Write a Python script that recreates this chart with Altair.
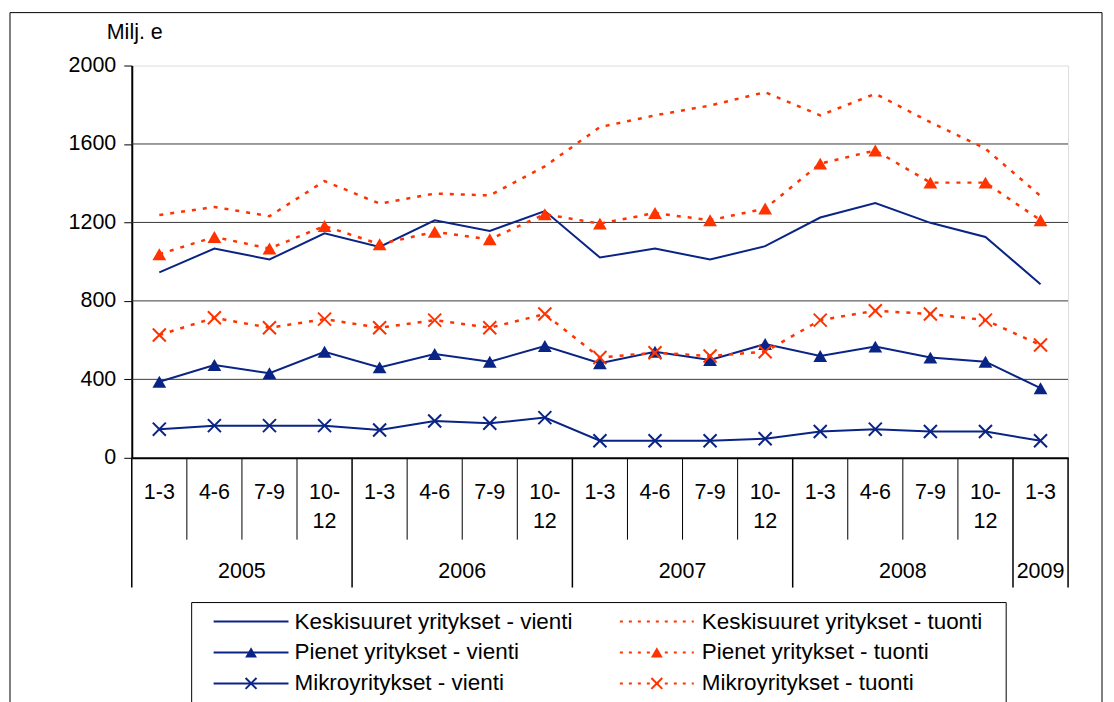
import altair as alt
import pandas as pd

FONT = "Liberation Sans"
FS = 21.5
FS_LEG = 22.5
BLUE = "#0A2486"
RED = "#FF3300"

quarters = ["1-3", "4-6", "7-9", "10-\n12"] * 4 + ["1-3"]
years = ["2005", "2006", "2007", "2008", "2009"]
year_start = [0, 4, 8, 12, 16]
year_end = [4, 8, 12, 16, 17]

kesk_vienti = [945, 1067, 1011, 1145, 1075, 1211, 1157, 1258, 1021, 1067, 1011, 1079, 1225, 1299, 1198, 1126, 885]
kesk_tuonti = [1238, 1279, 1232, 1411, 1296, 1347, 1338, 1486, 1686, 1746, 1796, 1864, 1746, 1856, 1711, 1576, 1335]
pien_vienti = [388, 473, 431, 541, 461, 529, 490, 570, 482, 541, 499, 580, 519, 567, 511, 490, 355]
pien_tuonti = [1038, 1126, 1067, 1182, 1089, 1152, 1114, 1242, 1194, 1248, 1211, 1271, 1500, 1567, 1403, 1403, 1211]
mikro_vienti = [146, 164, 164, 164, 142, 188, 176, 205, 87, 87, 87, 97, 134, 146, 134, 134, 87]
mikro_tuonti = [626, 714, 663, 707, 663, 702, 663, 733, 511, 536, 519, 541, 702, 750, 733, 702, 575]

y_ticks = [0, 400, 800, 1200, 1600, 2000]
grid_vals = [400, 800, 1200, 1600]

series = [
    ("Keskisuuret yritykset - vienti", kesk_vienti, BLUE, None, None),
    ("Keskisuuret yritykset - tuonti", kesk_tuonti, RED, [4, 7], None),
    ("Pienet yritykset - vienti", pien_vienti, BLUE, None, "triangle-up"),
    ("Pienet yritykset - tuonti", pien_tuonti, RED, [4, 7], "triangle-up"),
    ("Mikroyritykset - vienti", mikro_vienti, BLUE, None, "X"),
    ("Mikroyritykset - tuonti", mikro_tuonti, RED, [4, 7], "X"),
]

W, H = 938, 393
XS = alt.Scale(domain=[0, 17], nice=False, zero=False)
YS = alt.Scale(domain=[0, 2000], nice=False)
XPATH = "M-1,-1L1,1M-1,1L1,-1"
dummy = alt.Data(values=[{"a": 1}])

layers = []

# base axes layer (y axis + x domain)
base_df = pd.DataFrame({"x": [0, 17], "y": [0, 2000]})
layers.append(
    alt.Chart(base_df).mark_point(opacity=0).encode(
        x=alt.X("x:Q", scale=XS, title=None,
                axis=alt.Axis(labels=False, ticks=False, grid=False, title=None,
                              domainColor="black", domainWidth=2)),
        y=alt.Y("y:Q", scale=YS, title=None,
                axis=alt.Axis(values=y_ticks, grid=False, title=None, format="d",
                              domainColor="black", domainWidth=2,
                              tickColor="black", tickSize=8, tickWidth=1,
                              labelFont=FONT, labelFontSize=FS, labelColor="black",
                              labelPadding=8)),
    )
)

# outer frame
layers.append(
    alt.Chart(dummy).mark_rect(fill=None, stroke="black", strokeWidth=1, clip=False).encode(
        x=alt.value(-122), x2=alt.value(972), y=alt.value(-53), y2=alt.value(700)
    )
)

# gridlines
grid_df = pd.DataFrame({"v": grid_vals})
layers.append(
    alt.Chart(grid_df).mark_rule(color="#3a3a3a", strokeWidth=1).encode(
        y=alt.Y("v:Q", scale=YS, title=None)
    )
)

# series
for name, vals, color, dash, shape in series:
    df = pd.DataFrame({"i": [k + 0.5 for k in range(len(vals))], "v": vals})
    lk = dict(color=color, strokeWidth=2)
    if dash:
        lk["strokeDash"] = dash
        lk["strokeWidth"] = 2.5
    layers.append(
        alt.Chart(df).mark_line(**lk).encode(
            x=alt.X("i:Q", scale=XS, title=None), y=alt.Y("v:Q", scale=YS, title=None)
        )
    )
    if shape == "triangle-up":
        layers.append(
            alt.Chart(df).mark_point(shape="triangle-up", filled=True, color=color, size=190, opacity=1).encode(
                x=alt.X("i:Q", scale=XS, title=None), y=alt.Y("v:Q", scale=YS, title=None)
            )
        )
    elif shape == "X":
        layers.append(
            alt.Chart(df).mark_point(shape=XPATH, filled=False, color=color, size=170, strokeWidth=2, opacity=1).encode(
                x=alt.X("i:Q", scale=XS, title=None), y=alt.Y("v:Q", scale=YS, title=None)
            )
        )

# x category separators
bnd = list(range(18))
long_b = set(year_start + year_end)
sep_df = pd.DataFrame({"b": bnd, "long": [b in long_b for b in bnd]})
layers.append(
    alt.Chart(sep_df).transform_filter("!datum.long").mark_rule(color="black", strokeWidth=1).encode(
        x=alt.X("b:Q", scale=XS, title=None), y=alt.value(H), y2=alt.value(H + 82)
    )
)
layers.append(
    alt.Chart(sep_df).transform_filter("datum.long").mark_rule(color="black", strokeWidth=1.5).encode(
        x=alt.X("b:Q", scale=XS, title=None), y=alt.value(H), y2=alt.value(H + 130)
    )
)

# quarter labels
q_df = pd.DataFrame({"i": [k + 0.5 for k in range(len(quarters))], "q": quarters})
layers.append(
    alt.Chart(q_df).mark_text(font=FONT, fontSize=FS, color="black", baseline="middle",
                              lineBreak="\n", lineHeight=29).encode(
        x=alt.X("i:Q", scale=XS, title=None), y=alt.value(H + 35), text="q:N"
    )
)

# year labels
y_df = pd.DataFrame({"m": [(s + e) / 2 for s, e in zip(year_start, year_end)], "yr": years})
layers.append(
    alt.Chart(y_df).mark_text(font=FONT, fontSize=FS, color="black", baseline="middle").encode(
        x=alt.X("m:Q", scale=XS, title=None), y=alt.value(H + 114), text="yr:N"
    )
)

# y title
layers.append(
    alt.Chart(dummy).mark_text(text="Milj. e", font=FONT, fontSize=FS, color="black",
                               baseline="middle", align="center").encode(
        x=alt.value(3), y=alt.value(-33)
    )
)

# legend box
layers.append(
    alt.Chart(dummy).mark_rect(fill="white", stroke="black", strokeWidth=1, clip=False).encode(
        x=alt.value(192 - 132), x2=alt.value(1008 - 132), y=alt.value(603 - 65), y2=alt.value(700)
    )
)

leg_pos = [
    (214, 289, 295, 622), (621, 695, 703, 622),
    (214, 289, 295, 653), (621, 695, 703, 653),
    (214, 289, 295, 684), (621, 695, 703, 684),
]
for (name, vals, color, dash, shape), (x1, x2, tx, yy) in zip(series, leg_pos):
    rk = dict(color=color, strokeWidth=2)
    if dash:
        rk["strokeDash"] = [3, 6]
    layers.append(
        alt.Chart(dummy).mark_rule(**rk).encode(
            x=alt.value(x1 - 132), x2=alt.value(x2 - 132), y=alt.value(yy - 65)
        )
    )
    if shape == "triangle-up":
        layers.append(
            alt.Chart(dummy).mark_point(shape="triangle-up", filled=True, color=color, size=140, opacity=1).encode(
                x=alt.value((x1 + x2) / 2 - 132), y=alt.value(yy - 65)
            )
        )
    elif shape == "X":
        layers.append(
            alt.Chart(dummy).mark_point(shape=XPATH, filled=False, color=color, size=120, strokeWidth=2, opacity=1).encode(
                x=alt.value((x1 + x2) / 2 - 132), y=alt.value(yy - 65)
            )
        )
    layers.append(
        alt.Chart(dummy).mark_text(text=name, font=FONT, fontSize=FS_LEG, color="black",
                                   align="left", baseline="middle").encode(
            x=alt.value(tx - 132), y=alt.value(yy - 65)
        )
    )

chart = alt.layer(*layers).properties(
    width=W, height=H,
    autosize=alt.AutoSizeParams(type="none"),
    padding={"left": 124, "top": 57, "right": 38, "bottom": 244},
).configure_view(stroke="#9a9a9a", strokeWidth=2).configure(background="white")

chart.save("out.html", embed_options={"renderer": "svg", "actions": False})
